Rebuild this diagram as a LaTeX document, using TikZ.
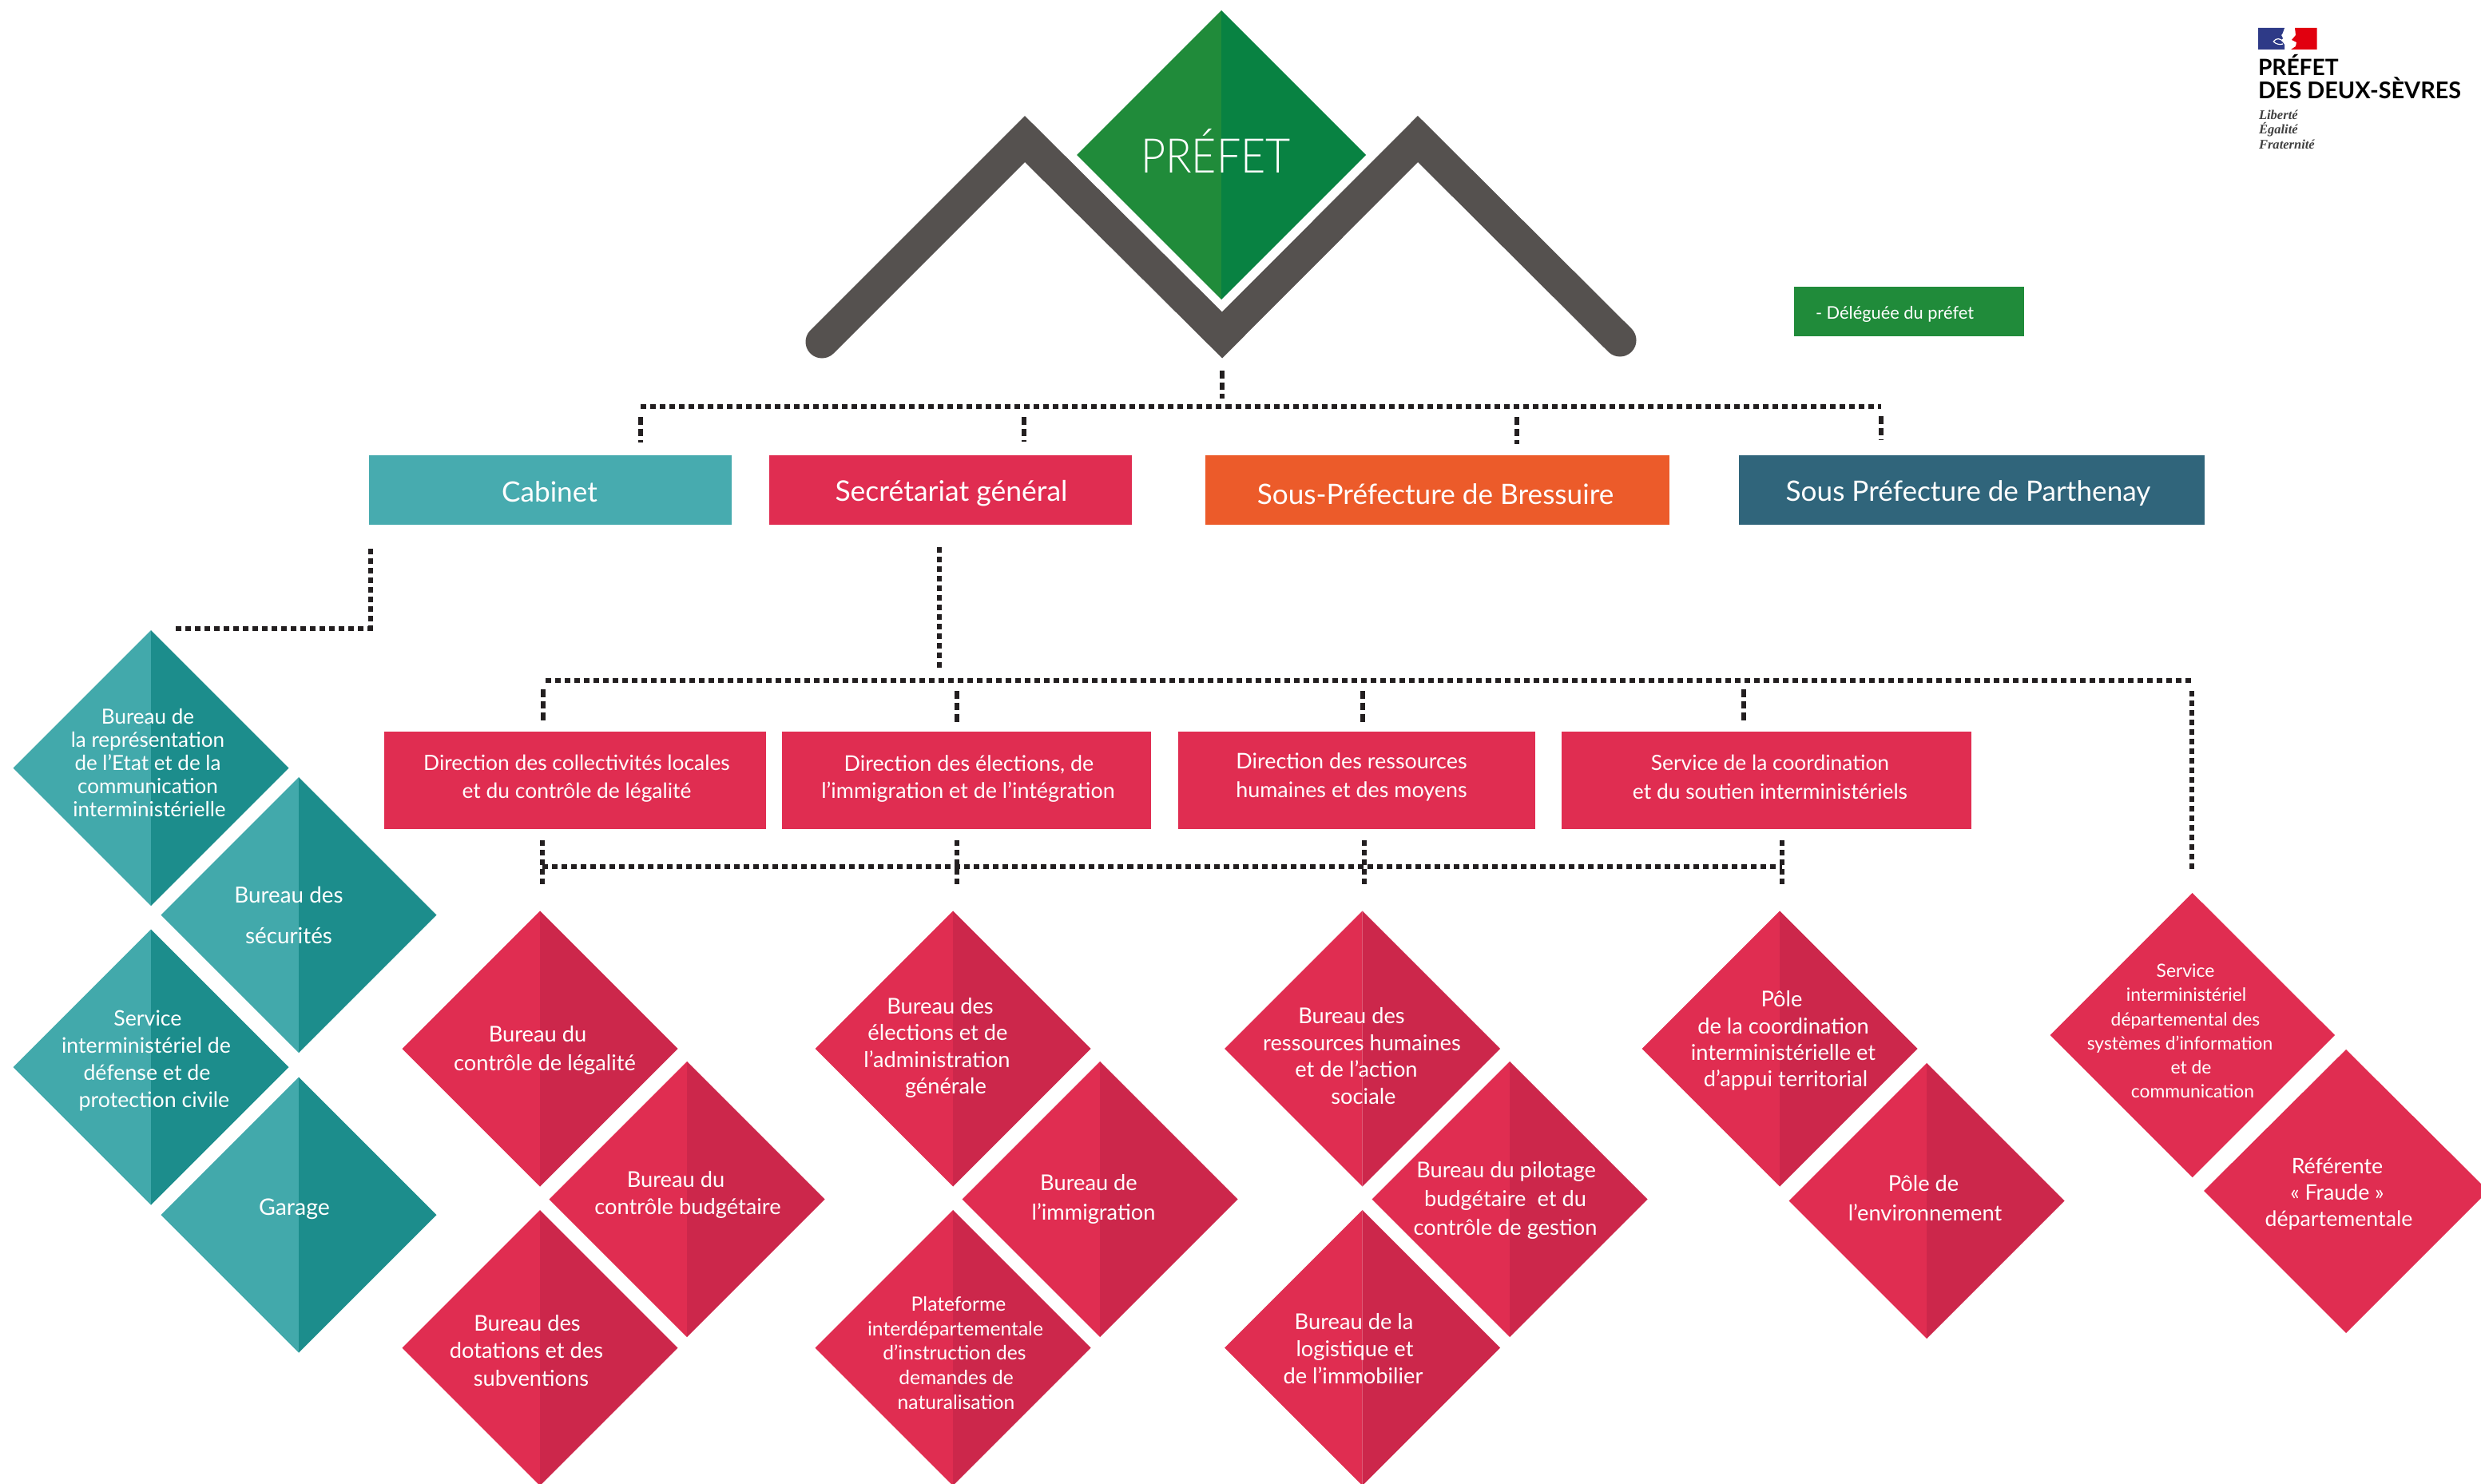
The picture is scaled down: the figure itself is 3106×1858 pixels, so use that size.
\documentclass[tikz,border=0pt]{standalone}
\usepackage{fontspec}
\setmainfont{Lato}
\IfFontExistsTF{Lato Light}{\newfontfamily\thinfont{Lato Light}}{\newfontfamily\thinfont{Lato}}
\newfontfamily\logoserif{Liberation Serif}
\definecolor{tealL}{HTML}{42A9AB}
\definecolor{tealD}{HTML}{1C8D8C}
\definecolor{tealBox}{HTML}{47ABAF}
\definecolor{redL}{HTML}{E02D51}
\definecolor{redD}{HTML}{CC274B}
\definecolor{orangeB}{HTML}{EC5B2A}
\definecolor{blueB}{HTML}{30657B}
\definecolor{greenL}{HTML}{208B3A}
\definecolor{greenD}{HTML}{088242}
\definecolor{chev}{HTML}{55514F}
\definecolor{dashc}{HTML}{231F20}
\definecolor{flagB}{HTML}{2E3A87}
\definecolor{flagR}{HTML}{E1000F}
\newdimen\dd \dd=0.02cm
\newcommand\sh[1]{\hspace*{#1\dd}}
\newcommand\fs[2]{\fontsize{#1}{#2}\selectfont}
% two-tone diamond: cx cy half left right
\newcommand\twotone[5]{%
  \fill[#4] (#1,#2-#3) -- (#1-#3,#2) -- (#1,#2+#3) -- cycle;
  \fill[#5] (#1,#2-#3) -- (#1+#3,#2) -- (#1,#2+#3) -- cycle;}
% rectangle: name x0 y0 x1 y1 colour
\newcommand\rbox[6]{\path[fill=#6] (#2,#3) rectangle (#4,#5);
  \coordinate (#1) at ({(#2+#4)/2},{(#3+#5)/2});}
\tikzset{
  txt/.style={text=white,align=center,inner sep=0pt,outer sep=0pt},
  dots/.style={draw=dashc,line width=0.06cm,dash pattern=on 0.07cm off 0.05cm},
  drop/.style={draw=dashc,line width=0.06cm,dash pattern=on 0.095cm off 0.05cm},
  logotxt/.style={anchor=base west,inner sep=0pt,outer sep=0pt,text=black},
}
\begin{document}
\begin{tikzpicture}[x=0.01cm,y=-0.01cm]
\useasboundingbox (0,0) rectangle (3106,1858);
\begin{scope}
\clip (0,0) rectangle (3106,1858);

% --- chevron and prefect
\draw[chev,line width=0.41cm,line cap=round,miter limit=10]
  (1029,428) -- (1283,174) -- (1530,419.5) -- (1775,174) -- (2028,426);
\twotone{1529}{194}{181}{greenL}{greenD}
\node[txt,font=\thinfont\fs{17}{20}] (prefet) at (1522,189) {\scalebox{0.9}[1]{PRÉFET}};

% --- top level boxes
\rbox{cab}{462}{570}{916}{657}{tealBox}
\rbox{sg}{963}{570}{1417}{657}{redL}
\rbox{bres}{1509}{570}{2090}{657}{orangeB}
\rbox{parth}{2177}{570}{2760}{657}{blueB}
\rbox{deleg}{2246}{359}{2534}{421}{greenL}
\node[txt,font=\fs{10}{12}] (cabT) at (688,616) {Cabinet};
\node[txt,font=\fs{10.1}{12}] (sgT) at (1191,618) {Secrétariat général};
\node[txt,font=\fs{10}{12}] (bresT) at (1797,619) {Sous-Préfecture de Bressuire};
\node[txt,font=\fs{10}{12}] (parthT) at (2464,618) {Sous Préfecture de Parthenay};
\node[txt,font=\fs{6.2}{8}] (delegT) at (2372,393) {- Déléguée du préfet};

% --- second level boxes
\rbox{dcl}{481}{916}{959}{1037.5}{redL}
\rbox{dei}{979}{916}{1441}{1037.5}{redL}
\rbox{drh}{1474.5}{916}{1922}{1037.5}{redL}
\rbox{scs}{1955}{916}{2468}{1037.5}{redL}
\node[txt,font=\fs{7.5}{9.9}] (dclT) at (722,975) {Direction des collectivités locales\\et du contrôle de légalité};
\node[txt,font=\fs{7.65}{9.9}] (deiT) at (1212,975) {\sh{1}Direction des élections, de\\l’immigration et de l’intégration};
\node[txt,font=\fs{7.65}{10.4}] (drhT) at (1692,973) {Direction des ressources\\humaines et des moyens};
\node[txt,font=\fs{7.5}{10.4}] (scsT) at (2216,973) {Service de la coordination\\et du soutien interministériels};

% --- teal diamonds
\twotone{189}{961.5}{172.5}{tealL}{tealD}
\twotone{374}{1145.5}{172.5}{tealL}{tealD}
\twotone{189}{1336}{172.5}{tealL}{tealD}
\twotone{374}{1521}{172.5}{tealL}{tealD}
\node[txt,font=\fs{7.4}{8.25}] (t1) at (185,955) {Bureau de\\la représentation\\de l’Etat et de la\\communication\\\sh{2}interministérielle};
\node[txt,font=\fs{7.9}{14.5}] (t2) at (361.5,1146) {Bureau des\\sécurités};
\node[txt,font=\fs{7.6}{9.6}] (t3) at (185,1328) {Service\\\sh{-2}interministériel de\\\sh{-1}défense et de\\\sh{8}protection civile};
\node[txt,font=\fs{8.1}{9}] (t4) at (368.5,1514) {Garage};

% --- red diamonds, column 1
\twotone{676}{1313}{172.5}{redL}{redD}
\twotone{860}{1501.5}{172.5}{redL}{redD}
\twotone{676}{1687.5}{172.5}{redL}{redD}
\node[txt,font=\fs{7.75}{10.2}] (b1) at (678,1315) {\sh{-5}Bureau du\\\sh{4}contrôle de légalité};
\node[txt,font=\fs{7.75}{9.7}] (b2) at (854,1496) {\sh{-8}Bureau du\\\sh{7}contrôle budgétaire};
\node[txt,font=\fs{7.75}{9.7}] (b3) at (661,1691) {\sh{-1}Bureau des\\\sh{-2}dotations et des\\\sh{4}subventions};

% --- column 2
\twotone{1193}{1313}{172.5}{redL}{redD}
\twotone{1377}{1501.5}{172.5}{redL}{redD}
\twotone{1193}{1687.5}{172.5}{redL}{redD}
\node[txt,font=\fs{7.75}{9.55}] (c1) at (1176,1312) {\sh{1}Bureau des\\\sh{-2}élections et de\\\sh{-3}l’administration\\\sh{8}générale};
\node[txt,font=\fs{7.75}{10.5}] (c2) at (1366,1501) {\sh{-3}Bureau de\\\sh{3}l’immigration};
\node[txt,font=\fs{7}{8.73}] (c3) at (1197,1694) {\sh{3}Plateforme\\\sh{-1}interdépartementale\\\sh{-2}d’instruction des\\demandes de\\naturalisation};

% --- column 3
\twotone{1705.5}{1313}{172.5}{redL}{redD}
\twotone{1890}{1501.5}{172.5}{redL}{redD}
\twotone{1705.5}{1687.5}{172.5}{redL}{redD}
\node[txt,font=\fs{7.75}{9.6}] (f1) at (1701,1322) {\sh{-9}Bureau des\\\sh{4}ressources humaines\\\sh{-3}et de l’action\\\sh{6}sociale};
\node[txt,font=\fs{7.75}{10.2}] (f2) at (1884.5,1503) {\sh{1}Bureau du pilotage\\budgétaire\ \ et du\\contrôle de gestion};
\node[txt,font=\fs{7.75}{9.55}] (f3) at (1695,1688.5) {Bureau de la\\\sh{1}logistique et\\\sh{-1}de l’immobilier};

% --- column 4
\twotone{2228}{1313}{172.5}{redL}{redD}
\twotone{2412}{1503.5}{172.5}{redL}{redD}
\node[txt,font=\fs{7.75}{9.5}] (g1) at (2232.5,1303) {\sh{-2}Pôle\\de la coordination\\interministérielle et\\\sh{3}d’appui territorial};
\node[txt,font=\fs{7.75}{10.5}] (g2) at (2409,1500) {\sh{-1}Pôle de\\\sh{1}l’environnement};

% --- right column
\path[fill=redL] (2744.7,1118) -- (2923,1296) -- (2744.7,1474) -- (2566.6,1296) -- cycle;
\path[fill=redL] (2937,1314) -- (3115,1491) -- (2937,1669) -- (2759,1491) -- cycle;
\node[txt,font=\fs{6.5}{8.6}] (s1) at (2736,1291) {Service\\\sh{1}interministériel\\départemental des\\\sh{-7}systèmes d’information\\\sh{7}et de\\\sh{9}communication};
\node[txt,font=\fs{7.6}{9.4}] (s2) at (2927,1495) {\sh{-1}Référente\\\sh{-1}« Fraude »\\\sh{1}départementale};

% --- connectors (free ends are named coordinates)
\coordinate (top0) at (1530,464); \coordinate (top1) at (1530,499);
\coordinate (barL) at (802,509);  \coordinate (barR) at (2355,509);
\coordinate (dA0) at (802,522);  \coordinate (dA1) at (802,554);
\coordinate (dB0) at (1282,522); \coordinate (dB1) at (1282,553);
\coordinate (dC0) at (1899,522); \coordinate (dC1) at (1899,556);
\coordinate (dD0) at (2355,521); \coordinate (dD1) at (2355,551);
\draw[drop] (top0) -- (top1);
\draw[dots] (barL) -- (barR);
\draw[drop] (dA0) -- (dA1);
\draw[drop] (dB0) -- (dB1);
\draw[drop] (dC0) -- (dC1);
\draw[drop] (dD0) -- (dD1);

\coordinate (cab0) at (463.5,687); \coordinate (cabC) at (463.5,787); \coordinate (cab1) at (219,787);
\draw[dots] (cab0) -- (cabC) -- (cab1);

\coordinate (sg0) at (1176,685); \coordinate (sg1) at (1176,837);
\draw[dots] (sg0) -- (sg1);
\coordinate (bar2L) at (683,851.5); \coordinate (bar2R) at (2743,851.5);
\draw[dots] (bar2L) -- (bar2R);
\coordinate (e1a) at (680,863);  \coordinate (e1b) at (680,902);
\coordinate (e2a) at (1198,865); \coordinate (e2b) at (1198,905);
\coordinate (e3a) at (1706,865); \coordinate (e3b) at (1706,905);
\coordinate (e4a) at (2183,863); \coordinate (e4b) at (2183,902);
\coordinate (e5a) at (2744,865); \coordinate (e5b) at (2744,1091);
\draw[drop] (e1a) -- (e1b);
\draw[drop] (e2a) -- (e2b);
\draw[drop] (e3a) -- (e3b);
\draw[drop] (e4a) -- (e4b);
\draw[dots] (e5a) -- (e5b);

\coordinate (bar3L) at (679,1085); \coordinate (bar3R) at (2231,1085);
\draw[dots] (bar3L) -- (bar3R);
\coordinate (f1a) at (679,1052);  \coordinate (f1b) at (679,1109);
\coordinate (f2a) at (1198,1052); \coordinate (f2b) at (1198,1109);
\coordinate (f3a) at (1708,1052); \coordinate (f3b) at (1708,1109);
\coordinate (f4a) at (2231,1052); \coordinate (f4b) at (2231,1109);
\draw[dots] (f1a) -- (f1b);
\draw[dots] (f2a) -- (f2b);
\draw[dots] (f3a) -- (f3b);
\draw[dots] (f4a) -- (f4b);

% --- logo
\fill[flagB] (2827,35) -- (2860,35) .. controls (2858,38) and (2859,41) .. (2856,44) -- (2858,48) -- (2856,50) -- (2860,56) -- (2860,62) -- (2827,62) -- cycle;
\draw[white,line width=0.012cm] (2846,52) .. controls (2850,47) and (2855,48) .. (2858,52) (2846,52) .. controls (2850,56) and (2855,56) .. (2858,55);
\fill[flagR] (2873,35) -- (2900.5,35) -- (2900.5,62) -- (2868,62) -- (2874,58) -- (2875,53) -- (2869,50) -- (2874,44) -- cycle;
\node[logotxt,font=\fs{8}{9}\bfseries] (lg1) at (2827,95) {PRÉFET};
\node[logotxt,font=\fs{8.2}{9}\bfseries] (lg2) at (2827,124) {DES DEUX-SÈVRES};
\node[logotxt,font=\logoserif\itshape\bfseries\fs{4.7}{6},text=black!75] (lg3) at (2828,150) {Liberté};
\node[logotxt,font=\logoserif\itshape\bfseries\fs{4.7}{6},text=black!75] (lg4) at (2828,168) {Égalité};
\node[logotxt,font=\logoserif\itshape\bfseries\fs{4.7}{6},text=black!75] (lg5) at (2828,187) {Fraternité};
\end{scope}
\end{tikzpicture}
\end{document}
